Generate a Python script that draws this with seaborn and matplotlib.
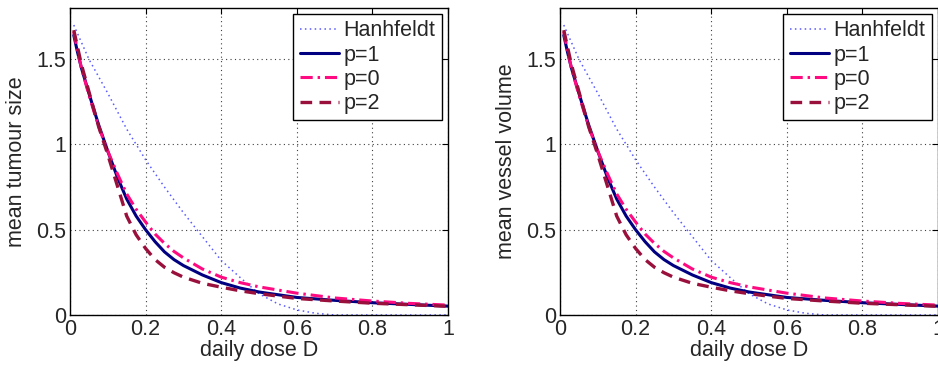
import numpy as np
import pandas as pd
import matplotlib
matplotlib.use("Agg")
import matplotlib.pyplot as plt
import seaborn as sns

# ---- data ----
dose_h = [0.01, 0.05, 0.10, 0.15, 0.20, 0.25, 0.30, 0.35, 0.40, 0.45, 0.50,
          0.55, 0.60, 0.65, 0.70, 0.80, 0.90, 1.00]
hanhfeldt = [1.70, 1.50, 1.30, 1.09, 0.91, 0.75, 0.60, 0.46, 0.32, 0.22, 0.125,
             0.065, 0.03, 0.01, 0.0, 0.0, 0.0, 0.0]

dose_p = [0.01, 0.02, 0.03, 0.05, 0.075, 0.10, 0.125, 0.15, 0.175, 0.20, 0.225,
          0.25, 0.275, 0.30, 0.35, 0.40, 0.45, 0.50, 0.60, 0.70, 0.80, 0.90, 1.00]
p1 = [1.64, 1.54, 1.45, 1.30, 1.12, 0.96, 0.81, 0.68, 0.58, 0.50, 0.43,
      0.37, 0.325, 0.29, 0.235, 0.19, 0.158, 0.135, 0.103, 0.086, 0.072, 0.062, 0.052]
p0 = [1.66, 1.55, 1.45, 1.29, 1.11, 0.96, 0.83, 0.71, 0.62, 0.545, 0.475,
      0.42, 0.373, 0.335, 0.27, 0.222, 0.19, 0.165, 0.128, 0.10, 0.082, 0.068, 0.058]
p2 = [1.67, 1.57, 1.47, 1.31, 1.11, 0.94, 0.76, 0.58, 0.47, 0.39, 0.325,
      0.28, 0.248, 0.222, 0.186, 0.163, 0.142, 0.125, 0.097, 0.082, 0.069, 0.060, 0.051]

series_names = ["Hanhfeldt", "p=1", "p=0", "p=2"]
ylabels = ["mean tumour size", "mean vessel volume"]
xlabel = "daily dose D"
xticks = [0, 0.2, 0.4, 0.6, 0.8, 1]
xticklabels = ["0", "0.2", "0.4", "0.6", "0.8", "1"]
yticks = [0, 0.5, 1, 1.5]
yticklabels = ["0", "0.5", "1", "1.5"]

frames = [pd.DataFrame({"D": dose_h, "y": hanhfeldt, "series": "Hanhfeldt"})]
for name, vals in zip(["p=1", "p=0", "p=2"], [p1, p0, p2]):
    frames.append(pd.DataFrame({"D": dose_p, "y": vals, "series": name}))
df = pd.concat(frames, ignore_index=True)

styles = {
    "Hanhfeldt": dict(color="#5a5aff", lw=1.1, dashes=(1, 2.2)),
    "p=1": dict(color="#000080", lw=2.2, dashes=None),
    "p=0": dict(color="#ff0a80", lw=2.2, dashes=(4, 1.6, 0.8, 1.6)),
    "p=2": dict(color="#99103c", lw=2.4, dashes=(3.5, 2.2)),
}

FS = 15.5

sns.set_style("white")
plt.rcParams["font.family"] = ["Liberation Sans", "DejaVu Sans"]
plt.rcParams["font.size"] = FS

fig = plt.figure(figsize=(9.38, 3.67), dpi=100)
positions = [[70 / 938, 1 - 315 / 367, 378 / 938, 307 / 367],
             [560 / 938, 1 - 315 / 367, 378 / 938, 307 / 367]]

for pos, ylab in zip(positions, ylabels):
    ax = fig.add_axes(pos)
    for name in series_names:
        st = styles[name]
        sub = df[df["series"] == name]
        sns.lineplot(data=sub, x="D", y="y", ax=ax, color=st["color"],
                     linewidth=st["lw"], label=name, estimator=None, sort=False)
        l = ax.get_lines()[-1]
        if st["dashes"] is not None:
            l.set_dashes(st["dashes"])
    ax.set_xlim(0, 1)
    ax.set_ylim(0, 1.8)
    ax.set_xticks(xticks)
    ax.set_xticklabels(xticklabels)
    ax.set_yticks(yticks)
    ax.set_yticklabels(yticklabels)
    ax.set_xlabel(xlabel, fontsize=FS, labelpad=0)
    ax.set_ylabel(ylab, fontsize=FS, labelpad=6)
    ax.tick_params(direction="in", top=True, right=True, length=4,
                   width=0.8, labelsize=FS, pad=3, color="black")
    ax.grid(True, linestyle=(0, (1, 3)), color="0.25", linewidth=0.8)
    for s in ax.spines.values():
        s.set_visible(True)
        s.set_color("black")
        s.set_linewidth(1.0)
    leg = ax.legend(loc="upper right", fontsize=FS, frameon=True, fancybox=False,
                    edgecolor="black", framealpha=1, handlelength=1.85,
                    handletextpad=0.2, borderpad=0.28, labelspacing=0.15,
                    borderaxespad=0.3)
    leg.get_frame().set_linewidth(1.0)

fig.savefig("out.png", dpi=100)
